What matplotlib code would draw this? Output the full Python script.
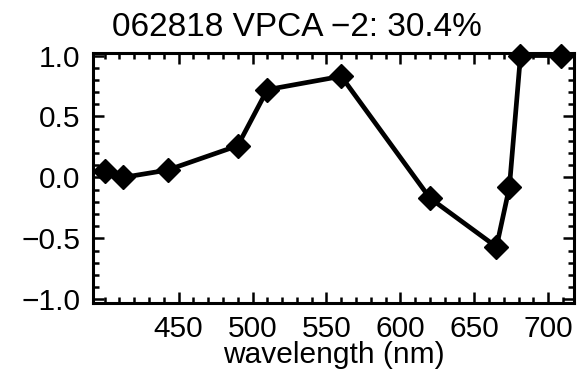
import matplotlib
matplotlib.use("Agg")
import matplotlib.pyplot as plt
from matplotlib.ticker import MultipleLocator

plt.rcParams['font.family'] = ['Liberation Sans', 'DejaVu Sans']

wavelength = [400, 412.5, 442.5, 490, 510, 560, 620, 665, 673.75, 681.25, 708.75]
values = [0.05, 0.0, 0.06, 0.26, 0.72, 0.83, -0.17, -0.57, -0.08, 1.0, 1.0]
xticks = [450, 500, 550, 600, 650, 700]
yticks = [-1.0, -0.5, 0.0, 0.5, 1.0]
title = "062818 VPCA \u22122: 30.4%"

fig = plt.figure(figsize=(5.84, 3.82), dpi=100)
ax = fig.add_axes([0.159, 0.207, 0.824, 0.654])
ax.plot(wavelength, values, color='black', lw=3.4, marker='D', ms=12,
        clip_on=False, zorder=3)
ax.set_xlim(392, 717.5)
ax.set_ylim(-1.03, 1.02)
ax.set_xticks(xticks)
ax.set_yticks(yticks)
ax.set_yticklabels([f"{v:.1f}".replace('-', '\u2212') for v in yticks])
ax.xaxis.set_minor_locator(MultipleLocator(10))
ax.yaxis.set_minor_locator(MultipleLocator(0.1))
ax.tick_params(which='both', direction='in', top=True, right=True,
               labelsize=21.5, width=1.8, color='black')
ax.tick_params(which='major', length=8)
ax.tick_params(which='minor', length=4)
ax.tick_params(axis='y', pad=9)
ax.tick_params(axis='x', pad=9)
for s in ax.spines.values():
    s.set_linewidth(2.2)
ax.set_xlabel("wavelength (nm)", fontsize=21.5, labelpad=-2)
fig.text(0.508, 0.905, title, fontsize=24, ha='center', va='baseline')
fig.savefig("out.png", dpi=100)
